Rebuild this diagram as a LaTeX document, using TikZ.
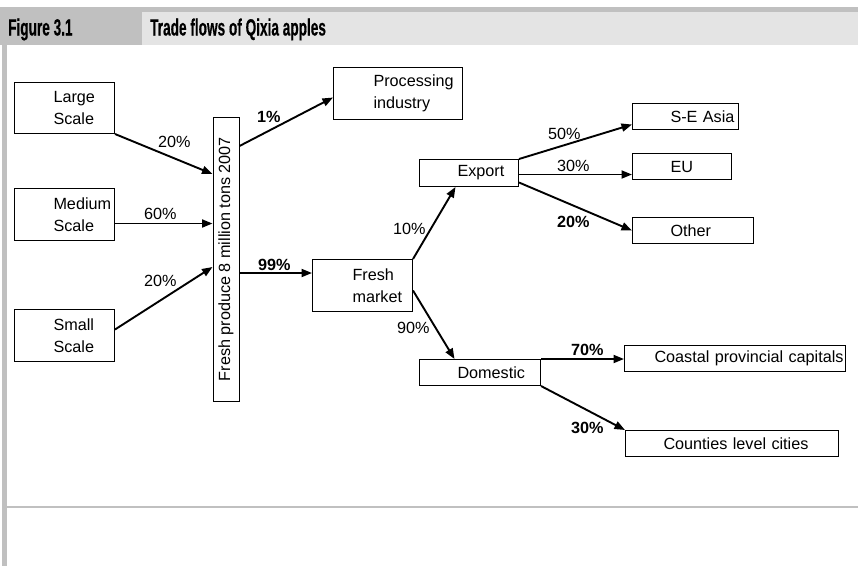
\documentclass[tikz,border=0pt]{standalone}
\usepackage{fontspec}
\setmainfont{Liberation Sans}
\newfontfamily\headfont[FakeStretch=0.58,FakeBold=0.4]{Liberation Sans}
\usetikzlibrary{arrows.meta}
\definecolor{framegray}{HTML}{C0C0C0}
\definecolor{titlegray}{HTML}{E4E4E4}

\begin{document}
\begin{tikzpicture}[x=1pt, y=-1pt,
  every node/.style={font=\fontsize{16.2}{22}\selectfont},
  box/.style n args={3}{draw, line width=1pt, inner sep=0pt, anchor=north west,
    text width=#1, minimum height=#2, align=left,
    execute at begin node={\leftskip=#3\relax}},
  head/.style={font=\headfont\bfseries\fontsize{23.5}{26}\selectfont,
    anchor=base west, inner sep=0pt},
  pct/.style={anchor=base west, inner sep=0pt},
  bpct/.style={pct, font=\bfseries\fontsize{16.2}{22}\selectfont},
  arr/.style={line width=1.9pt, -{Triangle[length=10.5pt,width=8pt]}}]

% page and frame
\fill[white] (0,0) rectangle (858,566);
\useasboundingbox (0,0) rectangle (858,566);
\fill[framegray] (0,7) rectangle (858,12);
\fill[framegray] (0,7) rectangle (142,45);
\fill[titlegray] (142,12) rectangle (858,45);
\fill[framegray] (2,45) rectangle (7,566);
\fill[framegray] (7,506) rectangle (858,508);

% heading
\node[head] (figno) at (8,35.5) {Figure 3.1};
\node[head] (title) at (150,35.5) {Trade flows of Qixia apples};

% producers
\node[box={100pt}{51pt}{39pt}] (large)  at (14,82)  {Large\\Scale};
\node[box={100pt}{52pt}{39pt}] (medium) at (14,188) {Medium\\Scale};
\node[box={100pt}{52pt}{39pt}] (small)  at (14,309) {Small\\Scale};

% total production
\node[draw, line width=1pt, rotate=90, minimum width=284pt, minimum height=26pt,
  inner sep=0pt] (prod) at (226,259) {Fresh produce 8 million tons 2007};

% destinations
\node[box={129pt}{52pt}{40pt}] (proc)     at (333,67)  {Processing\\industry};
\node[box={100pt}{52pt}{40pt}] (fresh)    at (312,259) {Fresh\\market};
\node[box={99pt}{27pt}{38pt}]  (export)   at (419,159) {Export};
\node[box={121pt}{26pt}{38pt}] (domestic) at (419,359) {Domestic};
\node[box={106pt}{26pt}{38pt}] (sea)      at (632,103) {S-E Asia};
\node[box={99pt}{26pt}{38pt}]  (eu)       at (632,153) {EU};
\node[box={121pt}{26pt}{38pt}] (other)    at (632,217) {Other};
\node[box={221pt}{26pt}{30pt}] (coastal)  at (624,345) {Coastal provincial capitals};
\node[box={213pt}{26pt}{38pt}] (counties) at (625,430) {Counties level cities};

% flows
\draw[arr] (large.south east) -- ([yshift=85pt]prod.north);
\draw[arr] ([yshift=-9pt]medium.east) coordinate (m60) -- (prod.north |- m60);
\draw[arr] ([yshift=6pt]small.east) -- ([yshift=-8pt]prod.north);
\draw[arr] ([yshift=113pt]prod.south) -- ([yshift=-4pt]proc.west);
\draw[arr] ([yshift=-14pt]prod.south) coordinate (p99) -- (fresh.west |- p99);
\draw[arr] (fresh.north east) -- ([xshift=-13.5pt]export.south);
\draw[arr] ([yshift=-5pt]fresh.east) -- ([xshift=-25.5pt]domestic.north);
\draw[arr] (export.north east) -- ([yshift=-8pt]sea.west);
\draw[arr] ([yshift=-1.5pt]export.east) coordinate (e30) -- (eu.west |- e30);
\draw[arr] ([yshift=-9.5pt]export.east) -- (other.west);
\draw[arr] (domestic.north east) -- (coastal.west |- domestic.north east);
\draw[arr] (domestic.south east) -- (counties.north west);

% shares
\node[pct]  (l20a) at (158,147) {20\%};
\node[pct]  (l60)  at (144,219) {60\%};
\node[pct]  (l20b) at (144,286) {20\%};
\node[bpct] (l1)   at (257,122) {1\%};
\node[bpct] (l99)  at (258,270) {99\%};
\node[pct]  (l10)  at (393,234) {10\%};
\node[pct]  (l90)  at (397,333) {90\%};
\node[pct]  (l50)  at (548,139) {50\%};
\node[pct]  (l30a) at (557,171) {30\%};
\node[bpct] (l20c) at (557,227) {20\%};
\node[bpct] (l70)  at (571,355) {70\%};
\node[bpct] (l30b) at (571,433) {30\%};
\end{tikzpicture}
\end{document}
